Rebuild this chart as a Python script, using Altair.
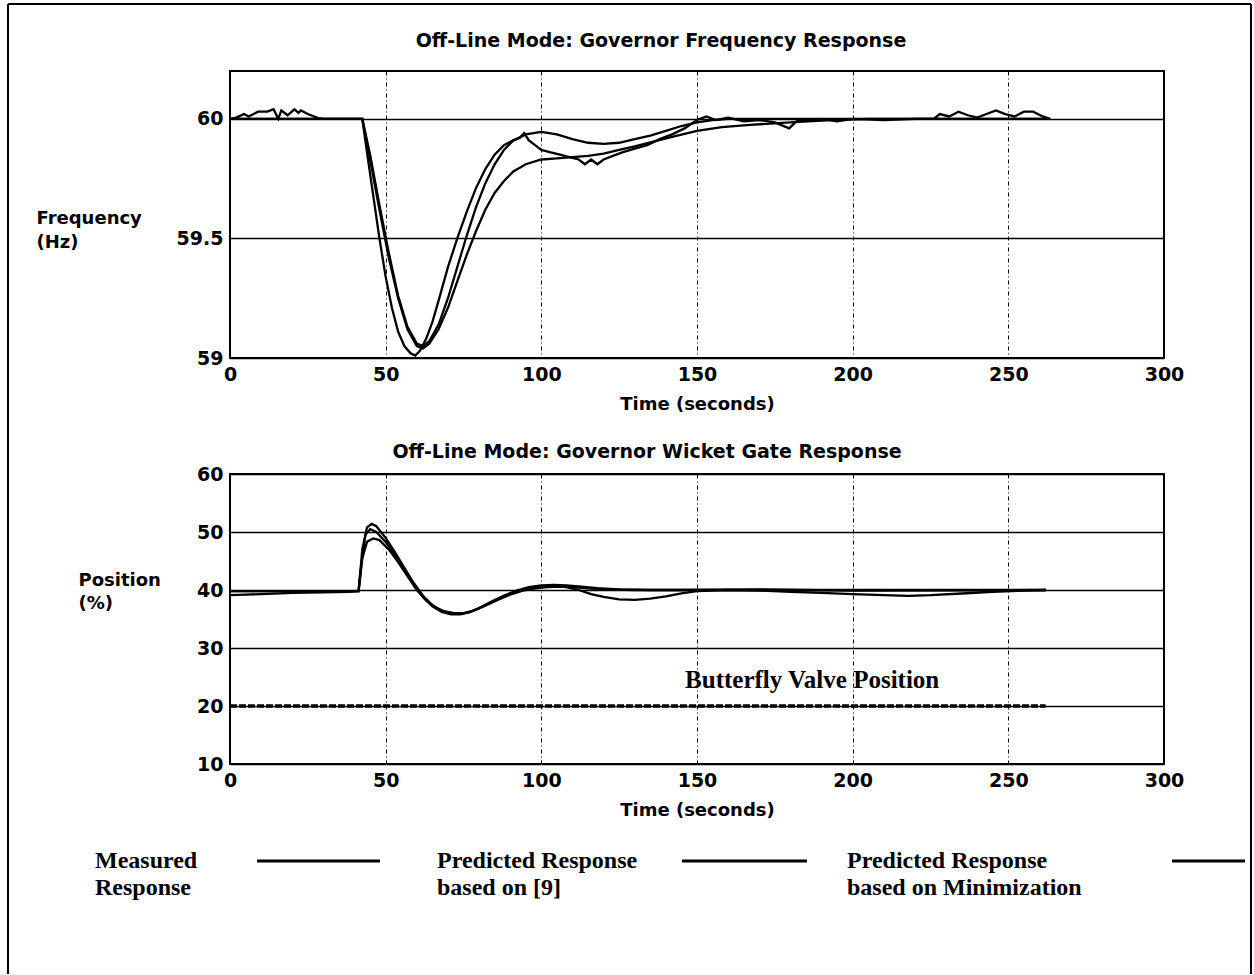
import altair as alt
import pandas as pd

# ---------------- data ----------------
x_ticks = [0, 50, 100, 150, 200, 250, 300]
freq_ticks = [59, 59.5, 60]
pos_ticks = [10, 20, 30, 40, 50, 60]

series_names = ["Measured Response", "Predicted Response based on [9]",
                "Predicted Response based on Minimization"]

# Frequency (Hz)
meas_f_t = [0, 2, 4.5, 6, 9, 12, 14, 15.5, 16.5, 18.5, 20.7, 22, 22.8, 25, 28.3, 30, 42.5,
            44, 46, 48, 50, 52, 54, 56, 58, 59.5, 61, 63, 65, 67, 70, 73, 76, 79, 82, 85,
            88, 91, 93, 94.5, 96, 98, 100, 103, 106, 109, 112, 114, 116, 118, 120, 123,
            126, 130, 134, 138, 142, 146, 150, 153, 156, 160, 165, 170, 175, 179.6, 182,
            186, 190, 195, 200, 210, 220, 226, 228, 231, 234, 237, 240, 243, 246, 249,
            252, 255, 258, 261, 263.5]
meas_f_v = [60.0, 60.005, 60.02, 60.01, 60.03, 60.03, 60.04, 60.0, 60.035, 60.015, 60.04,
            60.025, 60.035, 60.02, 60.003, 60.0, 60.0,
            59.86, 59.68, 59.5, 59.34, 59.21, 59.11, 59.05, 59.02, 59.01, 59.03, 59.08,
            59.15, 59.24, 59.38, 59.5, 59.61, 59.71, 59.79, 59.85, 59.89, 59.91, 59.92,
            59.94, 59.91, 59.89, 59.87, 59.86, 59.85, 59.84, 59.83, 59.81, 59.83, 59.81,
            59.83, 59.845, 59.86, 59.875, 59.89, 59.915, 59.935, 59.96, 59.995, 60.01,
            59.995, 60.005, 59.99, 59.995, 59.985, 59.96, 59.99, 59.995, 60.0, 59.99,
            60.0, 59.995, 60.0, 60.0, 60.02, 60.01, 60.03, 60.015, 60.005, 60.02, 60.035,
            60.02, 60.01, 60.03, 60.03, 60.01, 60.0]

pred9_f_t = [0, 42.5, 45, 48, 51, 54, 57, 60, 62, 64, 67, 70, 73, 76, 79, 82, 85, 88, 91,
             95, 100, 105, 110, 115, 120, 125, 130, 136, 142, 150, 158, 167, 180, 193,
             205, 263]
pred9_f_v = [60, 60, 59.83, 59.62, 59.42, 59.25, 59.12, 59.05, 59.04, 59.06, 59.12, 59.21,
             59.32, 59.43, 59.53, 59.62, 59.69, 59.74, 59.78, 59.81, 59.83, 59.835, 59.84,
             59.845, 59.855, 59.87, 59.885, 59.905, 59.925, 59.95, 59.965, 59.975, 59.985,
             59.995, 60, 60]

min_f_t = [0, 42.5, 45, 48, 51, 54, 57, 60, 62, 64, 67, 70, 73, 76, 79, 82, 85, 88, 91, 95,
           100, 105, 110, 115, 120, 125, 130, 135, 140, 145, 150, 155, 160, 263]
min_f_v = [60, 60, 59.85, 59.64, 59.44, 59.26, 59.13, 59.06, 59.05, 59.07, 59.14, 59.25,
           59.38, 59.51, 59.63, 59.73, 59.81, 59.87, 59.91, 59.935, 59.945, 59.935, 59.915,
           59.9, 59.895, 59.9, 59.915, 59.93, 59.95, 59.97, 59.985, 59.995, 60, 60]

# Wicket gate position (%)
meas_p_t = [0, 5, 10, 20, 30, 38, 41.3, 42.3, 43.5, 45, 47, 50, 53, 56, 59, 62, 65, 68, 71,
            74, 77, 80, 84, 88, 92, 96, 100, 104, 108, 112, 116, 120, 125, 130, 135, 140,
            145, 150, 160, 170, 180, 190, 200, 210, 218, 225, 235, 245, 255, 262]
meas_p_v = [39.1, 39.2, 39.3, 39.5, 39.6, 39.7, 39.8, 45.0, 49.5, 50.5, 50.0, 48.3, 46.0,
            43.5, 41.0, 38.8, 37.2, 36.2, 35.8, 35.8, 36.2, 36.9, 38.0, 39.0, 39.8, 40.3,
            40.6, 40.7, 40.5, 40.0, 39.3, 38.8, 38.4, 38.3, 38.5, 38.9, 39.4, 39.8, 40.0,
            39.9, 39.7, 39.5, 39.3, 39.1, 39.0, 39.1, 39.4, 39.7, 39.9, 40.0]

pred9_p_t = [0, 41.3, 42.5, 44, 45.5, 47, 50, 53, 56, 59, 62, 65, 68, 71, 74, 77, 80, 84,
             88, 92, 96, 100, 104, 108, 112, 118, 125, 135, 150, 180, 220, 262]
pred9_p_v = [39.8, 39.8, 47.0, 50.8, 51.4, 51.0, 49.0, 46.5, 43.8, 41.2, 39.0, 37.4, 36.4,
             36.0, 35.9, 36.2, 36.8, 37.9, 39.0, 39.9, 40.5, 40.8, 40.9, 40.8, 40.6, 40.3,
             40.1, 40.0, 40.0, 40.0, 40.0, 40.0]

min_p_t = [0, 41.3, 42.5, 44, 46, 48, 51, 54, 57, 60, 63, 66, 69, 72, 75, 78, 82, 86, 90,
           94, 98, 102, 106, 110, 115, 120, 130, 145, 170, 200, 262]
min_p_v = [39.8, 39.8, 45.5, 48.3, 48.9, 48.6, 47.0, 44.8, 42.4, 40.0, 38.2, 37.0, 36.3,
           36.0, 36.0, 36.4, 37.3, 38.3, 39.2, 39.9, 40.3, 40.5, 40.6, 40.5, 40.3, 40.1,
           40.0, 40.0, 40.1, 39.9, 40.0]

valve_t = [0, 262]
valve_v = [20, 20]

annot_x = [187]
annot_y = [24.4]
annot_text = ["Butterfly Valve Position"]

legend_labels = ["Measured\nResponse", "Predicted Response\nbased on [9]",
                 "Predicted Response\nbased on Minimization"]

# ---------------- helpers ----------------
SANS = "DejaVu Sans"
SERIF = "Liberation Serif"


def long_df(pairs):
    rows = []
    for name, ts, vs in pairs:
        for t, v in zip(ts, vs):
            rows.append({"series": name, "t": t, "v": v})
    return pd.DataFrame(rows)


freq_df = long_df([(series_names[0], meas_f_t, meas_f_v),
                   (series_names[1], pred9_f_t, pred9_f_v),
                   (series_names[2], min_f_t, min_f_v)])
pos_df = long_df([(series_names[0], meas_p_t, meas_p_v),
                  (series_names[1], pred9_p_t, pred9_p_v),
                  (series_names[2], min_p_t, min_p_v)])
valve_df = pd.DataFrame({"t": valve_t, "v": valve_v})
annot_df = pd.DataFrame({"t": annot_x, "v": annot_y, "label": annot_text})

W = 934


def x_enc():
    return alt.X("t:Q", scale=alt.Scale(domain=[0, 300], nice=False),
                 axis=alt.Axis(values=x_ticks, title="Time (seconds)", grid=True,
                               gridColor="black", gridDash=[4, 3, 1, 3], gridWidth=1,
                               ticks=False, domain=False, labelFlush=False,
                               labelFont=SANS, labelFontSize=19, labelFontWeight="bold",
                               labelColor="black", labelPadding=7,
                               titleFont=SANS, titleFontSize=18, titleFontWeight="bold",
                               titleColor="black", titlePadding=11))


def y_axis(values, fmt, title, tx, ty, lh):
    return alt.Axis(values=values, format=fmt, title=title, grid=True,
                    gridColor="black", gridWidth=1.5, ticks=False, domain=False,
                    labelFlush=False, labelFont=SANS, labelFontSize=19,
                    labelFontWeight="bold", labelColor="black", labelPadding=7,
                    titleFont=SANS, titleFontSize=18, titleFontWeight="bold",
                    titleColor="black", titleAngle=0, titleAlign="left",
                    titleBaseline="top", titleX=tx, titleY=ty, titleLineHeight=lh)


# ---------------- top panel ----------------
freq_lines = alt.Chart(freq_df).mark_line(color="black", strokeWidth=2.3).encode(
    x=x_enc(),
    y=alt.Y("v:Q", scale=alt.Scale(domain=[59, 60.2], nice=False, zero=False),
            axis=y_axis(freq_ticks, ".1~f", ["Frequency", "(Hz)"], -194, 138, 24)),
    detail="series:N",
)

top = freq_lines.properties(
    width=W, height=287,
    title=alt.TitleParams("Off-Line Mode: Governor Frequency Response", font=SANS,
                          fontSize=19, fontWeight="bold", color="black",
                          anchor="middle", dx=-36, offset=20),
)

# ---------------- bottom panel ----------------
pos_y = alt.Y("v:Q", scale=alt.Scale(domain=[10, 60], nice=False, zero=False),
              axis=y_axis(pos_ticks, "d", ["Position", "(%)"], -152, 97, 23))

pos_lines = alt.Chart(pos_df).mark_line(color="black", strokeWidth=2.3).encode(
    x=x_enc(), y=pos_y, detail="series:N")
valve_line = alt.Chart(valve_df).mark_line(color="black", strokeWidth=3.5,
                                           strokeDash=[7, 2]).encode(x="t:Q", y="v:Q")
annot = alt.Chart(annot_df).mark_text(font=SERIF, fontSize=25, fontWeight="bold",
                                      color="black", align="center",
                                      baseline="middle").encode(
    x="t:Q", y="v:Q", text="label:N")

bottom = alt.layer(pos_lines, valve_line, annot).properties(
    width=W, height=290,
    title=alt.TitleParams("Off-Line Mode: Governor Wicket Gate Response", font=SANS,
                          fontSize=19, fontWeight="bold", color="black",
                          anchor="middle", dx=-50, offset=3),
)

# ---------------- legend panel (with the page frame) ----------------
text_x = [-135, 207, 617]
rule_x = [(27, 150), (452, 577), (942, 1015)]
legend_layers = []
for lab, tx, (r0, r1) in zip(legend_labels, text_x, rule_x):
    src = alt.Data(values=[{"label": lab}])
    legend_layers.append(
        alt.Chart(src).mark_text(font=SERIF, fontSize=24, fontWeight="bold",
                                 color="black", align="left", baseline="top",
                                 lineBreak="\n", lineHeight=27).encode(
            text="label:N", x=alt.value(tx), y=alt.value(-31)))
    legend_layers.append(
        alt.Chart(src).mark_rule(color="black", strokeWidth=3).encode(
            x=alt.value(r0), x2=alt.value(r1), y=alt.value(-19)))

frame_src = alt.Data(values=[{"k": 1}])
frame_left = alt.Chart(frame_src).mark_rule(color="black", strokeWidth=2).encode(
    x=alt.value(-222), y=alt.value(-876), y2=alt.value(94))
frame_right = alt.Chart(frame_src).mark_rule(color="black", strokeWidth=2).encode(
    x=alt.value(1021), y=alt.value(-876), y2=alt.value(94))
frame_top = alt.Chart(frame_src).mark_rule(color="black", strokeWidth=2).encode(
    x=alt.value(-222), x2=alt.value(1021), y=alt.value(-876))

legend = alt.layer(*legend_layers, frame_left, frame_right, frame_top).properties(
    width=W, height=20, view=alt.ViewBackground(stroke="transparent"))

chart = alt.vconcat(top, bottom, legend, spacing=116, bounds="flush").properties(
    padding={"left": 6, "top": 2, "right": 0, "bottom": 0},
    background="white",
).configure_view(stroke="black", strokeWidth=2)

chart.save("out.html", embed_options={"renderer": "svg", "actions": False})
